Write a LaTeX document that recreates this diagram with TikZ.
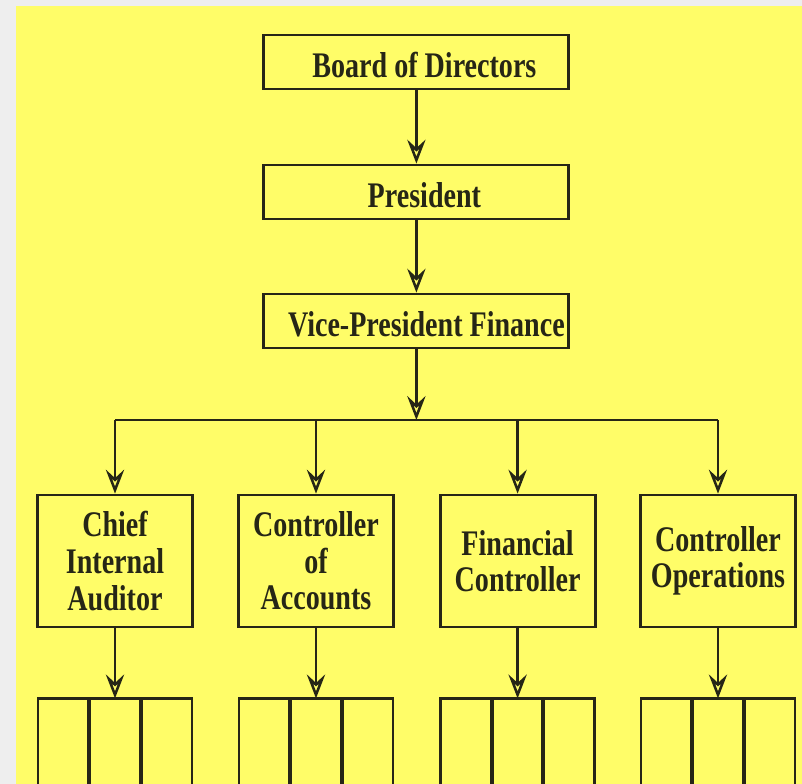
\documentclass[tikz,border=0pt]{standalone}
\usepackage{fontspec}
\setmainfont{Liberation Serif}[FakeStretch=0.78]
\usepackage{tikz}
\usetikzlibrary{arrows.meta,positioning,calc}
\definecolor{sheet}{RGB}{255,253,104}
\definecolor{edge}{RGB}{238,238,238}
\definecolor{ink}{RGB}{38,38,22}

\begin{document}
\begin{tikzpicture}[
    font=\fontsize{25.6}{26}\selectfont\bfseries,
    post/.style={draw=ink, text=ink, line width=2pt, inner xsep=0pt, inner ysep=0pt,
      minimum width=7.625cm, minimum height=1.35cm, text height=0.75cm, text depth=0pt,
      execute at begin node={\hspace*{0.4cm}}},
    dept/.style={draw=ink, text=ink, line width=2pt, align=center, inner sep=0pt,
      minimum width=3.875cm, minimum height=3.3cm},
    sub/.style={draw=ink, line width=2pt, minimum width=1.283cm, minimum height=3cm,
      inner sep=0pt, outer sep=0pt},
    arr/.style={draw=ink, line width=1.8pt, -{Stealth[open,length=17pt,width=13pt,inset=6pt]}}
  ]
      % sheet
      \useasboundingbox (0,0) rectangle (20.05,-19.6);
      \clip (0,0) rectangle (20.05,-19.6);
      \fill[edge] (0,0) rectangle (20.05,-19.6);
      \fill[sheet] (0.4,-0.15) rectangle (20.05,-19.6);
      % top of the chart
      \node[post] (board) at (10.41,-1.55) {Board of Directors};
      \node[post] (pres) at (10.41,-4.8) {President};
      \node[post] (vpf) at (10.41,-8.025) {\hspace*{0.1cm}Vice-President Finance};
      \draw[arr] (board) -- (pres);
      \draw[arr] (pres) -- (vpf);
      % departments
      \node[dept] (cia) at (2.875,-14.025) {Chief\\Internal\\Auditor};
      \node[dept] (coa) at (7.9,-14.025) {Controller\\of\\Accounts};
      \node[dept] (fc) at (12.94,-14.025) {Financial\\Controller};
      \node[dept] (cop) at (17.95,-14.025) {Controller\\Operations};
      \coordinate (bar) at (10.41,-10.5);
      \draw[arr] (vpf) -- (bar);
      \draw[draw=ink, line width=1.8pt] (bar -| cia) -- (bar -| cop);
      \foreach \d in {cia,coa,fc,cop}
        \draw[arr] (bar -| \d) -- (\d);
      % sections under each department
      \foreach \d in {cia,coa,fc,cop} {
        \node[sub, below=1.75cm of \d.south, anchor=north] (\d-m) {};
        \node[sub, left=0pt of \d-m] (\d-l) {};
        \node[sub, right=0pt of \d-m] (\d-r) {};
        \draw[draw=ink, line width=2.8pt] (\d-m.north west) -- (\d-m.south west)
          (\d-m.north east) -- (\d-m.south east);
        \draw[arr] (\d) -- (\d-m);
      }
    \end{tikzpicture}
\end{document}
